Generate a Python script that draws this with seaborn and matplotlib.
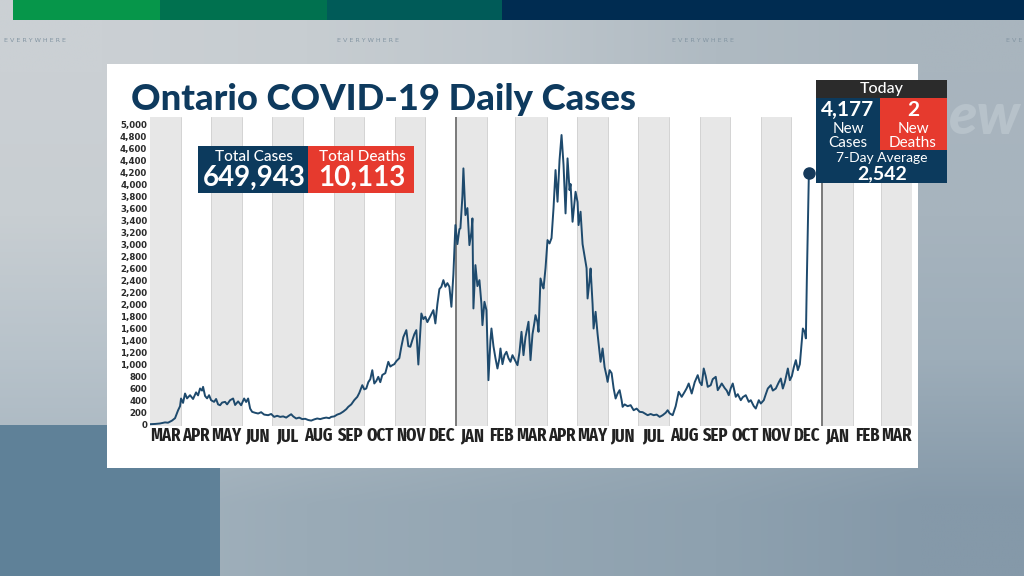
import os
import numpy as np
import pandas as pd
import matplotlib
matplotlib.use('Agg')
import matplotlib.pyplot as plt
from matplotlib.patches import Rectangle
from matplotlib import font_manager as fm
import seaborn as sns

# ---------------- data ----------------
START = '2020-03-01'
day_offsets = [
    0, 5, 10, 15, 18, 22, 25, 28, 30, 31, 33, 35, 37, 40, 43, 46, 48, 50, 52, 53,
    55, 57, 59, 61, 64, 66, 68, 70, 72, 75, 77, 80, 83, 85, 88, 91, 94, 96, 98, 100,
    102, 105, 108, 111, 114, 118, 121, 124, 127, 130, 133, 136, 139, 141, 143, 146, 149, 152, 155, 158,
    161, 164, 167, 170, 173, 176, 179, 181, 184, 187, 190, 193, 196, 198, 201, 204, 207, 209, 212, 214,
    216, 218, 220, 222, 224, 226, 228, 230, 232, 235, 238, 240, 242, 244, 246, 249, 251, 253, 256, 258,
    260, 262, 264, 266, 268, 271, 273, 275, 277, 280, 283, 285, 287, 289, 291, 293, 295, 297, 299, 301,
    303, 305, 307, 309, 310, 312, 313, 315, 317, 319, 321, 322, 323, 325, 327, 329, 331, 332, 334, 336,
    338, 340, 341, 343, 345, 347, 349, 350, 352, 354, 356, 358, 360, 362, 365, 367, 369, 371, 373, 375,
    378, 380, 382, 384, 385, 387, 388, 390, 392, 393, 395, 397, 399, 401, 403, 405, 407, 409, 411, 413,
    415, 417, 419, 420, 422, 424, 425, 427, 428, 430, 432, 434, 436, 437, 439, 440, 442, 443, 445, 447,
    449, 450, 452, 454, 456, 457, 459, 461, 463, 465, 467, 469, 471, 472, 474, 477, 480, 483, 486, 489,
    492, 494, 497, 500, 503, 506, 509, 512, 515, 517, 519, 522, 525, 528, 531, 534, 536, 538, 541, 544,
    547, 549, 551, 553, 555, 557, 560, 562, 565, 567, 569, 571, 574, 576, 578, 580, 582, 585, 587, 590,
    592, 595, 598, 600, 603, 605, 608, 610, 613, 615, 617, 620, 622, 625, 628, 630, 632, 634, 637, 639,
    641, 643, 645, 647, 649, 652, 654, 655, 656, 657, 658,
]
daily_cases = [
    0, 4, 12, 30, 25, 60, 100, 230, 300, 428, 355, 511, 430, 483, 420, 530, 480, 595, 560, 622,
    470, 430, 483, 400, 372, 420, 330, 316, 360, 372, 330, 400, 428, 320, 380, 316, 428, 370, 428, 260,
    206, 190, 178, 200, 160, 150, 170, 122, 140, 122, 130, 110, 145, 166, 130, 95, 110, 85, 90, 70,
    60, 80, 95, 85, 100, 110, 100, 122, 130, 160, 178, 210, 250, 289, 330, 401, 455, 520, 650, 580,
    595, 700, 750, 900, 678, 720, 789, 700, 820, 850, 1039, 960, 983, 1000, 1050, 1100, 1289, 1450, 1567, 1300,
    1289, 1400, 1500, 1567, 994, 1844, 1750, 1789, 1700, 1800, 1900, 1678, 2000, 2250, 2289, 2400, 2289, 2350, 2289, 1956,
    2500, 3317, 3000, 3250, 3261, 3800, 4261, 3483, 3600, 2983, 3200, 3428, 1928, 2650, 2300, 2400, 2000, 1650, 2039, 1900,
    733, 1400, 1594, 1300, 1100, 928, 1100, 1261, 1000, 1150, 1206, 1100, 1039, 1150, 1050, 983, 1200, 1539, 1150, 1450,
    1706, 1067, 1500, 1700, 1817, 1700, 1539, 2428, 2300, 2261, 2600, 3067, 3011, 3100, 3600, 4233, 3706, 4400, 4817, 4317,
    3511, 4428, 3900, 4000, 3372, 3700, 3872, 3700, 3317, 3539, 3000, 2800, 2600, 2094, 2400, 2594, 2000, 1594, 1872, 1500,
    1200, 1039, 1261, 950, 800, 705, 900, 850, 600, 428, 511, 567, 400, 289, 330, 300, 317, 233, 260, 206,
    200, 180, 150, 170, 150, 160, 122, 150, 190, 233, 180, 150, 300, 539, 456, 540, 600, 678, 511, 700,
    817, 700, 650, 928, 800, 622, 650, 750, 789, 567, 620, 678, 600, 560, 483, 600, 678, 456, 500, 400,
    450, 483, 372, 400, 300, 261, 400, 344, 400, 500, 594, 650, 560, 594, 700, 761, 594, 700, 928, 733,
    800, 950, 1067, 900, 1000, 1594, 1530, 1430, 2430, 3300, 4177,
]
assert len(day_offsets) == len(daily_cases)

y_ticks = list(range(0, 5001, 200))
axis_start, axis_end = '2020-03-01', '2022-04-01'
year_starts = ['2021-01-01', '2022-01-01']

title = 'Ontario COVID-19 Daily Cases'
total_cases_label, total_cases = 'Total Cases', '649,943'
total_deaths_label, total_deaths = 'Total Deaths', '10,113'
today_label = 'Today'
today_cases, today_deaths = '4,177', '2'
new_label, cases_label, deaths_label = 'New', 'Cases', 'Deaths'
avg_label, avg_value = '7-Day Average', '2,542'
watermark = 'E V E R Y W H E R E'

# ---------------- style ----------------
sns.set_theme(style='white')
plt.rcParams['font.family'] = ['Lato', 'DejaVu Sans']

NAVY = '#0c3a5d'
RED = '#e63a2e'
LINE = '#1e4a6d'

# choose a condensed bold face for the month labels, if one is installed
month_fp = None
_cands = []
for f in fm.fontManager.ttflist:
    b = os.path.basename(f.fname)
    if 'Bold' in b and 'Italic' not in b and 'Oblique' not in b and ('Condensed' in b or 'Narrow' in b):
        if 'ExtraBold' in b or 'SemiBold' in b:
            continue
        if 'ExtraCondensed' in b:
            _cands.append((0, f.fname, 13))
        elif 'SemiCondensed' in b:
            _cands.append((2, f.fname, 10.5))
        else:
            _cands.append((1, f.fname, 11.5))
if _cands:
    _cands.sort()
    month_fp = fm.FontProperties(fname=_cands[0][1], size=_cands[0][2])
else:
    month_fp = fm.FontProperties(family=['Lato', 'DejaVu Sans'], weight='bold', size=10.5)

dates = pd.Timestamp(START) + pd.to_timedelta(day_offsets, unit='D')
df = pd.DataFrame({'date': dates, 'cases': daily_cases})

W, H = 1024, 576
fig = plt.figure(figsize=(W / 100, H / 100), dpi=100)

# background
bg = fig.add_axes([0, 0, 1, 1], zorder=0)
grid_hex = [
    ['#cbd0d4', '#c7cdd1', '#bec6cc', '#afbac2', '#a9b5be'],
    ['#c8ced2', '#c2c9ce', '#b8c2c9', '#abb7c0', '#a7b4be'],
    ['#b7c2ca', '#b4bfc7', '#abb8c1', '#a1b0bb', '#9dadb9'],
    ['#a4b3be', '#9aabb7', '#94a6b3', '#8ea1af', '#8599a9'],
]
grid = np.array([[matplotlib.colors.to_rgb(c) for c in row] for row in grid_hex])
bg.imshow(grid, extent=[0, W, H, 0], interpolation='bilinear', aspect='auto')
bg.set_xlim(0, W)
bg.set_ylim(H, 0)
bg.axis('off')
bg.add_patch(Rectangle((0, 425), 220, 151, color='#5f8198', lw=0))
for x0, x1, c in [(13, 160, '#06964a'), (160, 327, '#00714f'), (327, 502, '#005b58'), (502, 1024, '#002c51')]:
    bg.add_patch(Rectangle((x0, 0), x1 - x0, 20, color=c, lw=0))
for xc in [35, 368, 703]:
    bg.text(xc, 40, watermark, fontsize=4.6, color='#8395a2', ha='center', va='center', family='DejaVu Sans')
bg.text(1006, 40, 'E V E', fontsize=4.6, color='#8395a2', ha='left', va='center', family='DejaVu Sans')
bg.text(1021, 118, 'ew', fontsize=42, fontweight='black', style='italic', color='#b7c2ca',
        ha='right', va='center')
bg.add_patch(Rectangle((107, 64), 811, 404, color='white', lw=0))

# main chart
ax = fig.add_axes([150 / W, 1 - 426 / H, 762 / W, 309 / H], zorder=1)
ax.set_facecolor('white')
months = pd.date_range(axis_start, axis_end, freq='MS')
for i in range(len(months) - 1):
    if i % 2 == 0:
        ax.axvspan(months[i], months[i + 1], color='#e7e7e7', lw=0, zorder=0)
for m in months[1:-1]:
    if str(m.date()) in year_starts:
        ax.axvline(m, color='#7a7a7a', lw=1.4, zorder=1)
    else:
        ax.axvline(m, color='#d3d3d3', lw=0.7, zorder=1)

sns.lineplot(data=df, x='date', y='cases', ax=ax, color=LINE, linewidth=1.4, zorder=3)
ax.plot(df['date'].iloc[-1], df['cases'].iloc[-1], 'o', ms=8, color='#15395a', zorder=4, clip_on=False)

ax.set_xlim(months[0], months[-1])
ax.set_ylim(-30, 5117)
ax.set_xlabel('')
ax.set_ylabel('')
for s in ax.spines.values():
    s.set_visible(False)

ax.set_yticks(y_ticks)
ax.set_yticklabels([f'{v:,}' for v in y_ticks], fontsize=6.2, fontweight='bold', color='#2a2a2a',
                   family='DejaVu Sans')
mids = [months[i] + (months[i + 1] - months[i]) / 2 for i in range(len(months) - 1)]
ax.set_xticks(mids)
ax.set_xticklabels([m.strftime('%b').upper() for m in months[:-1]], fontproperties=month_fp,
                   color='#222222')
ax.tick_params(axis='y', length=0, pad=2)
ax.tick_params(axis='x', length=0, pad=1)

# overlay with title and boxes
ov = fig.add_axes([0, 0, 1, 1], zorder=2)
ov.set_xlim(0, W)
ov.set_ylim(H, 0)
ov.axis('off')
ov.patch.set_alpha(0)

ov.text(131, 110, title, fontsize=26.2, fontweight='black', color='#0e3a5e', ha='left', va='baseline')

ov.add_patch(Rectangle((198, 146), 110, 47, color=NAVY, lw=0))
ov.add_patch(Rectangle((308, 146), 106, 47, color=RED, lw=0))
ov.text(254, 157, total_cases_label, fontsize=11, fontweight='medium', color='white', ha='center', va='center')
ov.text(254, 178, total_cases, fontsize=20, fontweight='bold', color='white', ha='center', va='center')
ov.text(362, 157, total_deaths_label, fontsize=11, fontweight='medium', color='white', ha='center', va='center')
ov.text(362, 178, total_deaths, fontsize=20, fontweight='bold', color='white', ha='center', va='center')

ov.add_patch(Rectangle((816, 80), 131, 18, color='#2b2b2b', lw=0))
ov.add_patch(Rectangle((816, 98), 131, 85, color=NAVY, lw=0))
ov.add_patch(Rectangle((880, 98), 67, 52, color=RED, lw=0))
ov.text(882, 89, today_label, fontsize=11.5, fontweight='medium', color='white', ha='center', va='center')
ov.text(848, 110, today_cases, fontsize=15, fontweight='bold', color='white', ha='center', va='center')
ov.text(848, 129, new_label, fontsize=11, color='white', ha='center', va='center')
ov.text(848, 143, cases_label, fontsize=11, color='white', ha='center', va='center')
ov.text(913, 110, today_deaths, fontsize=15, fontweight='bold', color='white', ha='center', va='center')
ov.text(913, 129, new_label, fontsize=11, color='white', ha='center', va='center')
ov.text(913, 143, deaths_label, fontsize=11, color='white', ha='center', va='center')
ov.text(882, 158, avg_label, fontsize=10, color='white', ha='center', va='center')
ov.text(882, 174, avg_value, fontsize=14, fontweight='bold', color='white', ha='center', va='center')

fig.savefig('out.png', dpi=100)
